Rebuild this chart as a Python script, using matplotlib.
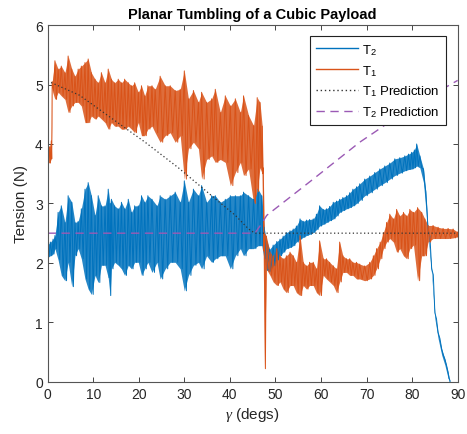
import numpy as np
import matplotlib
matplotlib.use('Agg')
import matplotlib.pyplot as plt

plt.rcParams['font.family'] = ['Liberation Sans', 'DejaVu Sans']
plt.rcParams['mathtext.fontset'] = 'custom'
plt.rcParams['mathtext.rm'] = 'Liberation Sans'
plt.rcParams['mathtext.it'] = 'Liberation Serif:italic'

# T1 (orange): angle, peak, trough
t1_deg = [0.0, 0.4, 0.8, 1.0, 1.6, 2.3, 3.0, 3.8, 4.5, 5.3, 6.0, 6.7, 7.4, 8.2, 8.9,
          9.6, 10.4, 11.1, 11.8, 12.6, 13.3, 14.0, 14.7, 15.5, 16.2, 16.9, 17.7, 18.4,
          19.1, 19.9, 20.6, 21.3, 22.0, 22.9, 23.6, 24.7, 25.8, 26.9, 28.0, 29.1, 30.0,
          30.9, 32.0, 33.1, 33.8, 34.9, 36.0, 36.8, 37.9, 39.0, 40.1, 41.2, 42.3, 43.0,
          44.1, 45.2, 46.0, 46.6, 47.1, 47.3, 47.6, 48.0, 48.8, 49.5, 50.3, 51.0, 51.7,
          52.4, 53.2, 53.9, 54.6, 55.4, 56.1, 56.8, 57.5, 58.3, 59.0, 59.7, 60.5, 61.2,
          61.9, 62.7, 63.4, 64.1, 64.8, 65.6, 66.3, 67.0, 67.8, 68.5, 69.6, 70.7, 71.5,
          72.2, 73.0, 73.7, 74.4, 75.1, 75.9, 76.6, 77.3, 78.1, 78.8, 79.5, 80.3, 81.2,
          82.1, 82.8, 83.5, 84.6, 85.7, 86.8, 87.9, 89.0, 90.0]
t1_hi = [4.00, 3.95, 4.05, 5.05, 5.40, 5.26, 5.31, 5.20, 5.48, 5.26, 5.14, 5.26, 5.31, 5.37, 5.43,
         5.20, 5.09, 5.03, 5.20, 5.03, 5.26, 5.09, 5.03, 5.09, 5.03, 5.09, 5.03, 4.98,
         5.03, 4.87, 4.98, 4.81, 4.98, 4.98, 4.92, 5.14, 4.98, 4.98, 4.90, 4.92, 5.23,
         4.76, 4.90, 4.70, 4.87, 4.70, 4.76, 4.92, 4.53, 4.81, 4.64, 4.76, 4.53, 4.81,
         4.48, 4.31, 4.78, 4.70, 4.30, 3.60, 2.50, 2.45, 2.18, 2.12, 2.24, 2.12, 2.07,
         2.12, 2.18, 2.12, 2.01, 2.46, 2.01, 1.95, 2.01, 2.01, 1.90, 2.37, 2.07, 2.07,
         2.01, 1.95, 1.90, 2.35, 2.12, 2.07, 2.07, 2.01, 2.01, 1.98, 1.95, 2.01, 2.12,
         2.24, 2.35, 2.51, 2.68, 2.82, 2.74, 2.90, 2.79, 2.85, 2.79, 2.90, 2.85, 2.93,
         2.85, 2.74, 2.63, 2.63, 2.60, 2.58, 2.58, 2.57, 2.52]
t1_lo = [3.70, 3.68, 3.75, 4.90, 4.75, 4.87, 4.81, 4.75, 4.53, 4.64, 4.70, 4.70, 4.64, 4.36, 4.36,
         4.47, 4.42, 4.47, 4.42, 4.36, 4.25, 4.36, 4.30, 4.30, 4.25, 4.25, 4.30, 4.25,
         4.19, 4.36, 4.14, 4.14, 4.25, 4.30, 4.19, 4.03, 4.14, 4.19, 4.03, 4.14, 3.41,
         3.92, 4.03, 3.92, 3.41, 3.74, 3.80, 3.69, 3.74, 3.69, 3.30, 3.52, 3.69, 3.47,
         3.58, 3.00, 3.20, 3.60, 3.50, 2.20, 0.22, 1.90, 1.79, 1.68, 1.62, 1.68, 1.56,
         1.50, 1.62, 1.62, 1.50, 1.45, 1.62, 1.56, 1.62, 1.62, 1.50, 1.45, 1.79, 1.73,
         1.68, 1.62, 1.50, 1.68, 1.84, 1.84, 1.79, 1.79, 1.73, 1.73, 1.70, 1.73, 1.79,
         1.90, 2.07, 2.24, 2.35, 2.41, 2.35, 2.18, 2.24, 2.12, 2.07, 2.24, 2.30, 1.70,
         2.12, 2.12, 2.35, 2.41, 2.41, 2.41, 2.41, 2.42, 2.44]

# T2 (blue)
t2_deg = [0.0, 0.6, 1.2, 1.6, 2.3, 3.0, 3.8, 4.5, 5.3, 6.0, 6.7, 7.4, 8.2, 8.9, 9.6,
          10.4, 11.1, 11.8, 12.6, 13.3, 13.7, 14.0, 14.7, 15.5, 16.2, 16.9, 17.7, 18.4,
          19.1, 19.9, 20.6, 21.3, 22.0, 22.9, 24.0, 24.7, 25.8, 26.9, 28.0, 29.1, 30.0,
          30.9, 32.0, 33.1, 33.8, 34.9, 36.0, 36.8, 37.9, 39.0, 40.1, 41.2, 42.3, 43.0,
          44.1, 45.2, 46.2, 47.0, 47.5, 48.0, 48.7, 49.5, 50.3, 51.0, 51.7, 52.4, 53.2,
          53.9, 54.6, 55.4, 56.1, 56.8, 57.5, 58.3, 59.0, 59.7, 60.5, 61.2, 61.9, 62.7,
          63.4, 64.1, 64.8, 65.6, 66.3, 67.0, 67.8, 68.5, 69.6, 70.7, 71.8, 72.9, 74.0,
          75.1, 76.2, 77.3, 78.4, 79.2, 79.9, 80.5, 81.0, 81.7, 82.5, 83.0, 83.5, 84.3,
          85.0, 85.7, 86.5, 87.2, 87.9, 88.3]
t2_hi = [2.30, 2.35, 2.40, 2.46, 2.85, 2.96, 2.68, 3.13, 3.02, 2.68, 2.70, 2.91, 3.24, 3.35, 3.13,
         2.80, 3.13, 2.96, 2.96, 3.24, 3.00, 3.07, 2.96, 2.91, 3.02, 2.91, 3.07, 2.85,
         2.96, 2.96, 3.13, 3.02, 3.13, 3.07, 2.96, 3.13, 3.07, 3.13, 3.19, 3.02, 3.38,
         3.02, 3.24, 3.13, 3.30, 3.02, 3.13, 3.13, 3.02, 3.07, 3.13, 3.13, 3.13, 3.19,
         3.13, 3.07, 3.24, 3.13, 2.60, 2.40, 2.23, 2.30, 2.36, 2.40, 2.45, 2.51, 2.54,
         2.57, 2.62, 2.74, 2.70, 2.72, 2.73, 2.74, 2.82, 2.96, 2.90, 2.91, 2.95, 3.02,
         3.04, 3.07, 3.10, 3.13, 3.18, 3.24, 3.28, 3.33, 3.41, 3.46, 3.52, 3.58, 3.63,
         3.68, 3.75, 3.77, 3.80, 3.83, 3.86, 3.90, 4.00, 3.80, 3.58, 3.20, 2.55, 1.90,
         1.16, 0.83, 0.55, 0.38, 0.16, 0.02]
t2_lo = [2.10, 2.12, 2.15, 2.24, 2.05, 1.79, 1.70, 2.01, 1.60, 2.12, 2.24, 2.07, 1.73, 1.56, 1.47,
         1.79, 1.67, 1.96, 1.96, 1.75, 1.45, 1.90, 2.01, 1.96, 1.90, 1.79, 1.96, 1.90,
         2.01, 2.01, 1.79, 1.90, 2.01, 1.84, 2.01, 1.73, 1.90, 2.01, 2.01, 1.90, 1.53,
         1.79, 1.96, 2.01, 1.90, 2.12, 2.01, 2.07, 2.12, 2.12, 1.90, 2.12, 2.24, 2.12,
         2.24, 2.24, 2.29, 2.29, 2.07, 1.88, 1.85, 1.95, 2.05, 2.12, 2.18, 2.24, 2.26,
         2.29, 2.35, 2.40, 2.43, 2.46, 2.48, 2.51, 2.56, 2.62, 2.65, 2.68, 2.71, 2.74,
         2.79, 2.85, 2.88, 2.91, 2.93, 2.96, 3.00, 3.05, 3.13, 3.18, 3.24, 3.30, 3.35,
         3.41, 3.47, 3.51, 3.55, 3.57, 3.58, 3.60, 3.63, 3.60, 3.35, 2.91, 2.45, 1.80,
         1.06, 0.73, 0.45, 0.28, 0.06, 0.00]

# model predictions
t1_pred_deg = [0.0, 7.0, 15.0, 21.4, 28.7, 36.0, 41.2, 44.1, 45.5, 90.0]
t1_pred = [5.06, 4.82, 4.38, 4.03, 3.60, 3.13, 2.80, 2.57, 2.50, 2.50]
t2_pred_deg = [0.0, 45.5, 46.7, 48.1, 58.3, 68.5, 71.6, 80.0, 90.0]
t2_pred = [2.50, 2.50, 2.63, 2.80, 3.41, 4.03, 4.19, 4.63, 5.07]


def zigzag(deg, hi, lo):
    # alternate peak / trough, trough placed halfway to the next sample
    deg = np.asarray(deg)
    mids = np.append((deg[:-1] + deg[1:]) / 2, deg[-1])
    xs = np.column_stack([deg, mids]).ravel()
    ys = np.column_stack([hi, lo]).ravel()
    return xs, ys


blue = '#0072BD'
orange = '#D95319'
purple = '#9B5AB5'
grey = '#262626'

fig = plt.figure(figsize=(4.67, 4.35), dpi=100)
ax = fig.add_axes([0.102, 0.120, 0.878, 0.820])

# noisy measured tensions: band between peaks and troughs plus the zigzag trace
ax.fill_between(t2_deg, t2_lo, t2_hi, color=blue, alpha=0.85, lw=0)
x2, y2 = zigzag(t2_deg, t2_hi, t2_lo)
ax.plot(x2, y2, color=blue, lw=0.7, label='T$_2$')
ax.fill_between(t1_deg, t1_lo, t1_hi, color=orange, alpha=0.85, lw=0)
x1, y1 = zigzag(t1_deg, t1_hi, t1_lo)
ax.plot(x1, y1, color=orange, lw=0.7, label='T$_1$')
ax.plot(t1_pred_deg, t1_pred, color='#333333', lw=0.9, ls=(0, (1, 2)), label='T$_1$ Prediction')
ax.plot(t2_pred_deg, t2_pred, color=purple, lw=1.0, ls=(0, (6, 4)), label='T$_2$ Prediction')

ax.set_xlim(0, 90)
ax.set_ylim(0, 6)
ax.set_xticks(range(0, 91, 10))
ax.set_yticks(range(0, 7))
ax.tick_params(direction='in', top=True, right=True, length=3.5, width=0.6,
               labelsize=10, colors=grey)
for s in ax.spines.values():
    s.set_color('#555555')
    s.set_linewidth(0.8)

ax.set_title('Planar Tumbling of a Cubic Payload', fontsize=10.5, fontweight='bold', pad=5)
ax.set_xlabel(r'$\gamma$ (degs)', fontsize=11, color=grey, labelpad=3)
ax.set_ylabel('Tension (N)', fontsize=11, color=grey, labelpad=5)

leg = ax.legend(loc='upper right', bbox_to_anchor=(0.971, 0.969), borderaxespad=0,
                fontsize=9.5, fancybox=False, framealpha=1, edgecolor='#222222',
                handlelength=3.2, borderpad=0.45, labelspacing=0.45, handletextpad=0.3)
leg.get_frame().set_linewidth(0.8)
for line in leg.get_lines():
    line.set_linewidth(1.0)

fig.savefig('out.png', dpi=100)
